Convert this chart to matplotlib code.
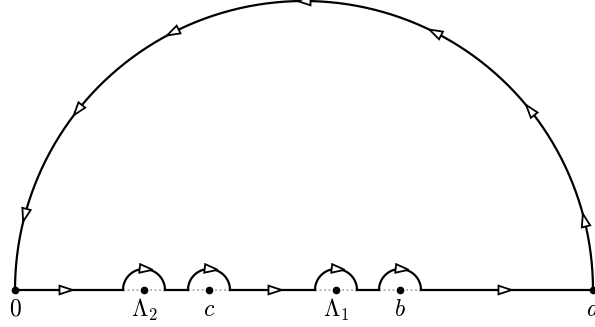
import numpy as np
import matplotlib
matplotlib.use('Agg')
import matplotlib.pyplot as plt
from matplotlib.patches import Polygon

plt.rcParams['mathtext.fontset'] = 'cm'

# points on the real axis (label, position)
labels = ['$0$', r'$\Lambda_2$', '$c$', r'$\Lambda_1$', '$b$', '$a$']
points = [0, 129, 194, 321, 385, 578]
indented = [129, 194, 321, 385]      # small half circles around these
r_small = 21

# arrows: angles on big arc (deg), x on real axis, angle on small arcs
big_arrow_angles = [14, 38.5, 63, 90, 117, 141.5, 165]
line_arrow_x = [51, 260, 490]
small_arrow_angle = 84

lw = 1.6
L, W = 13, 4.3   # arrow length, half width


def arrow(ax, x, y, tx, ty):
    """空心三角箭头, (x,y) 中心, (tx,ty) 方向"""
    t = np.array([tx, ty]) / np.hypot(tx, ty)
    n = np.array([-t[1], t[0]])
    c = np.array([x, y])
    tip = c + t * L / 2
    b1 = c - t * L / 2 + n * W
    b2 = c - t * L / 2 - n * W
    ax.add_patch(Polygon([tip, b1, b2], closed=True, fc='white', ec='black',
                         lw=1.3, zorder=5, joinstyle='miter'))


fig = plt.figure(figsize=(5.95, 3.27), dpi=100)
ax = fig.add_axes([0, 0, 1, 1])
ax.set_xlim(-15, 580)
ax.set_ylim(-37, 290)
ax.axis('off')

x0, xa = points[0], points[-1]
cx = (x0 + xa) / 2
R = (xa - x0) / 2

# big half circle
th = np.linspace(0, np.pi, 400)
ax.plot(cx + R * np.cos(th), R * np.sin(th), color='black', lw=lw)
for a in big_arrow_angles:
    t = np.radians(a)
    arrow(ax, cx + R * np.cos(t), R * np.sin(t), -np.sin(t), np.cos(t))

# real axis with indentations
edges = [x0] + sum([[p - r_small, p + r_small] for p in indented], []) + [xa]
for i in range(0, len(edges), 2):
    ax.plot([edges[i], edges[i + 1]], [0, 0], color='black', lw=lw)
th = np.linspace(0, np.pi, 100)
for p in indented:
    ax.plot(p + r_small * np.cos(th), r_small * np.sin(th), color='black', lw=lw)
    ax.plot([p - r_small, p + r_small], [0, 0], color='#aaaaaa', lw=1.2,
            ls=(0, (1.2, 1.5)), zorder=1)
    t = np.radians(small_arrow_angle)
    arrow(ax, p + r_small * np.cos(t), r_small * np.sin(t), np.sin(t), -np.cos(t))
for x in line_arrow_x:
    arrow(ax, x, 0, 1, 0)

ax.plot(points, [0] * len(points), 'o', color='black', ms=4.5, zorder=6)
for lab, x in zip(labels, points):
    ax.text(x, -7, lab, ha='center', va='top', fontsize=17)

fig.savefig('out.png', dpi=100)
